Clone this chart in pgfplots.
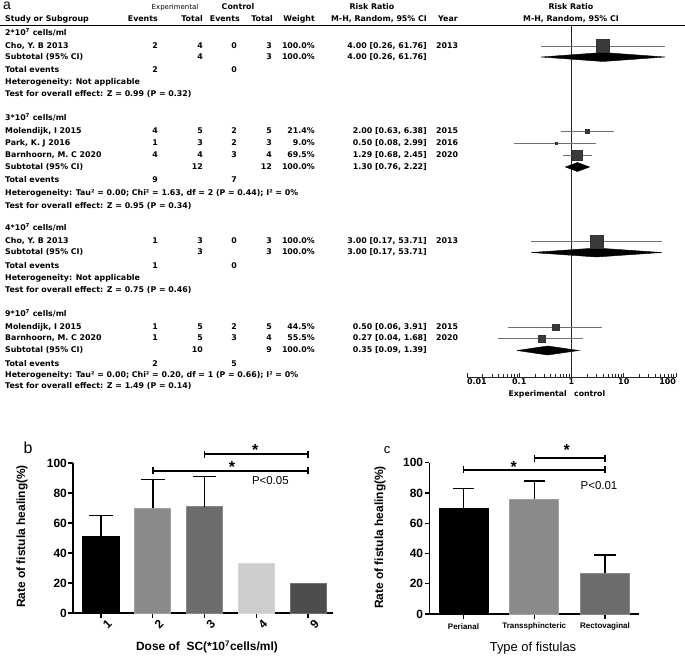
\documentclass[border=0pt]{standalone}
\usepackage{fontspec}
\setmainfont{Liberation Sans}
\newfontfamily\rmfont{DejaVu Sans}
\usepackage{pgfplots}
\pgfplotsset{compat=1.18}
\definecolor{sq}{HTML}{3A3A3A}
\definecolor{ci}{HTML}{707070}
\definecolor{bA}{HTML}{000000}
\definecolor{bB}{HTML}{8A8A8A}
\definecolor{bC}{HTML}{6C6C6C}
\definecolor{bD}{HTML}{CDCDCD}
\definecolor{bE}{HTML}{4D4D4D}
\tikzset{tl/.style={inner sep=0pt, text height=6bp, text depth=1.6bp, font=\rmfont\fontsize{7.9}{10}\selectfont\bfseries}}
\newcommand\srow[9]{%
 \node[tl,anchor=west] at (5,-#1) {#2};
 \node[tl,anchor=east] at (158,-#1) {#3};
 \node[tl,anchor=east] at (203,-#1) {#4};
 \node[tl,anchor=east] at (237,-#1) {#5};
 \node[tl,anchor=east] at (272,-#1) {#6};
 \node[tl,anchor=east] at (315,-#1) {#7};
 \node[tl,anchor=east] at (427,-#1) {#8};
 \node[tl,anchor=west] at (436,-#1) {#9};
}
\newcommand\tline[2]{\node[tl,anchor=west] at (5,-#1) {#2};}
\begin{document}
\begin{tikzpicture}
\path[use as bounding box] (0bp,0bp) rectangle (685bp,-656bp);
\begin{scope}[x=1bp,y=1bp]
% ---------- panel a : table ----------
\node[anchor=west, inner sep=0pt, font=\fontsize{14}{14}\selectfont] at (3,-6) {a};
\node[tl, font=\rmfont\fontsize{7}{9}\selectfont] at (175,-7) {Experimental};
\node[tl] at (238,-7) {Control};
\node[tl] at (372,-7) {Risk Ratio};
\node[tl] at (571,-7) {Risk Ratio};
\node[tl,anchor=west] at (5,-19.5) {Study or Subgroup};
\node[tl,anchor=east] at (158,-19.5) {Events};
\node[tl,anchor=east] at (203,-19.5) {Total};
\node[tl,anchor=east] at (240,-19.5) {Events};
\node[tl,anchor=east] at (273,-19.5) {Total};
\node[tl,anchor=east] at (315,-19.5) {Weight};
\node[tl,anchor=east] at (427,-19.5) {M-H, Random, 95\% CI};
\node[tl,anchor=west] at (438,-19.5) {Year};
\node[tl] at (571,-19.5) {M-H, Random, 95\% CI};
\draw[line width=0.8bp] (0,-25.5) -- (685,-25.5);
% group 1
\tline{33}{2*10\textsuperscript{7} cells/ml}
\srow{46}{Cho, Y. B 2013}{2}{4}{0}{3}{100.0\%}{4.00 [0.26, 61.76]}{2013}
\srow{57}{Subtotal (95\% CI)}{}{4}{}{3}{100.0\%}{4.00 [0.26, 61.76]}{}
\srow{70}{Total events}{2}{}{0}{}{}{}{}
\tline{82}{Heterogeneity: Not applicable}
\tline{94}{Test for overall effect: Z = 0.99 (P = 0.32)}
% group 2
\tline{118}{3*10\textsuperscript{7} cells/ml}
\srow{131.5}{Molendijk, I 2015}{4}{5}{2}{5}{21.4\%}{2.00 [0.63, 6.38]}{2015}
\srow{143.5}{Park, K. J 2016}{1}{3}{2}{3}{9.0\%}{0.50 [0.08, 2.99]}{2016}
\srow{155.5}{Barnhoorn, M. C 2020}{4}{4}{3}{4}{69.5\%}{1.29 [0.68, 2.45]}{2020}
\srow{167}{Subtotal (95\% CI)}{}{12}{}{12}{100.0\%}{1.30 [0.76, 2.22]}{}
\srow{180}{Total events}{9}{}{7}{}{}{}{}
\tline{193}{Heterogeneity: Tau² = 0.00; Chi² = 1.63, df = 2 (P = 0.44); I² = 0\%}
\tline{206}{Test for overall effect: Z = 0.95 (P = 0.34)}
% group 3
\tline{228}{4*10\textsuperscript{7} cells/ml}
\srow{241.5}{Cho, Y. B 2013}{1}{3}{0}{3}{100.0\%}{3.00 [0.17, 53.71]}{2013}
\srow{252.5}{Subtotal (95\% CI)}{}{3}{}{3}{100.0\%}{3.00 [0.17, 53.71]}{}
\srow{266}{Total events}{1}{}{0}{}{}{}{}
\tline{278}{Heterogeneity: Not applicable}
\tline{290}{Test for overall effect: Z = 0.75 (P = 0.46)}
% group 4
\tline{314}{9*10\textsuperscript{7} cells/ml}
\srow{327}{Molendijk, I 2015}{1}{5}{2}{5}{44.5\%}{0.50 [0.06, 3.91]}{2015}
\srow{338.5}{Barnhoorn, M. C 2020}{1}{5}{3}{4}{55.5\%}{0.27 [0.04, 1.68]}{2020}
\srow{350.5}{Subtotal (95\% CI)}{}{10}{}{9}{100.0\%}{0.35 [0.09, 1.39]}{}
\srow{364}{Total events}{2}{}{5}{}{}{}{}
\tline{375}{Heterogeneity: Tau² = 0.00; Chi² = 0.20, df = 1 (P = 0.66); I² = 0\%}
\tline{386}{Test for overall effect: Z = 1.49 (P = 0.14)}
\node[tl,anchor=east,font=\rmfont\fontsize{7.8}{9}\selectfont\bfseries] at (567,-394) {Experimental};
\node[tl,anchor=west,font=\rmfont\fontsize{7.8}{9}\selectfont\bfseries] at (574,-394) {control};
% labels of panels b and c
\node[anchor=center, inner sep=0pt, font=\fontsize{16}{16}\selectfont] at (28,-448) {b};
\node[rotate=90, font=\fontsize{12}{12}\selectfont\bfseries] at (22,-536.5) {Rate of fistula healing(\%)};
\node[font=\fontsize{12}{12}\selectfont\bfseries] at (207,-647) {Dose of\ \ SC(*10\textsuperscript{7}cells/ml)};
\node[anchor=center, inner sep=0pt, font=\fontsize{13}{13}\selectfont] at (387,-450) {c};
\node[rotate=90, font=\fontsize{12}{12}\selectfont\bfseries] at (380,-537.5) {Rate of fistula healing(\%)};
\node[font=\fontsize{13}{13}\selectfont] at (533,-648) {Type of fistulas};
\end{scope}
% ---------- panel a : forest plot ----------
\begin{axis}[at={(467bp,-377bp)}, anchor=south west, scale only axis,
  width=209bp, height=352bp, xmode=log, xmin=0.01, xmax=100, ymin=-377, ymax=-25,
  axis x line*=bottom, axis y line=none, clip=false,
  xtick={0.01,0.1,1,10,100}, minor xtick={},
  xticklabels={\makebox[0pt][l]{0.01},0.1,1,10,\makebox[0pt][r]{100}},
  tick align=inside, major tick length=4bp,
  axis line style={black!85, line width=0.7bp}, tick style={black!85, line width=0.7bp},
  xticklabel style={font=\rmfont\fontsize{8}{10}\selectfont\bfseries, inner sep=1.5bp},
  /pgf/number format/assume math mode=true]
\draw[black!85, line width=0.7bp] (axis cs:1,-25.5) -- (axis cs:1,-377);
% confidence intervals
\addplot[ci, line width=0.7bp] coordinates {(0.26,-46) (61.76,-46)};
\addplot[ci, line width=0.7bp] coordinates {(0.63,-131.5) (6.38,-131.5)};
\addplot[ci, line width=0.7bp] coordinates {(0.08,-143.5) (2.99,-143.5)};
\addplot[ci, line width=0.7bp] coordinates {(0.68,-155.5) (2.45,-155.5)};
\addplot[ci, line width=0.7bp] coordinates {(0.17,-241.5) (53.71,-241.5)};
\addplot[ci, line width=0.7bp] coordinates {(0.06,-327) (3.91,-327)};
\addplot[ci, line width=0.7bp] coordinates {(0.04,-338.5) (1.68,-338.5)};
% study squares
\addplot[only marks, mark=square*, mark size=6.5bp, mark options={fill=sq, draw=black!80}] coordinates {(4.00,-46)};
\addplot[only marks, mark=square*, mark size=2bp, mark options={fill=sq, draw=black!80}] coordinates {(2.00,-131.5)};
\addplot[only marks, mark=square*, mark size=1bp, mark options={fill=sq, draw=black!80}] coordinates {(0.50,-143.5)};
\addplot[only marks, mark=square*, mark size=5bp, mark options={fill=sq, draw=black!80}] coordinates {(1.29,-155.5)};
\addplot[only marks, mark=square*, mark size=6.5bp, mark options={fill=sq, draw=black!80}] coordinates {(3.00,-241.5)};
\addplot[only marks, mark=square*, mark size=3.3bp, mark options={fill=sq, draw=black!80}] coordinates {(0.50,-327)};
\addplot[only marks, mark=square*, mark size=3.8bp, mark options={fill=sq, draw=black!80}] coordinates {(0.27,-338.5)};
% subtotal diamonds
\addplot[fill=black, draw=black] coordinates {(0.26,-57) (4.00,-52.5) (61.76,-57) (4.00,-61.5) (0.26,-57)};
\addplot[fill=black, draw=black] coordinates {(0.76,-167) (1.30,-162.5) (2.22,-167) (1.30,-171.5) (0.76,-167)};
\addplot[fill=black, draw=black] coordinates {(0.17,-252.5) (3.00,-248) (53.71,-252.5) (3.00,-257) (0.17,-252.5)};
\addplot[fill=black, draw=black] coordinates {(0.09,-350.5) (0.35,-346) (1.39,-350.5) (0.35,-355) (0.09,-350.5)};
\end{axis}
% ---------- panel b ----------
\begin{axis}[at={(73bp,-613bp)}, anchor=south west, scale only axis,
  width=260bp, height=150bp, xmin=-0.54, xmax=4.48, ymin=0, ymax=100,
  axis lines*=left, clip=false,
  ytick={0,20,40,60,80,100}, xtick={0,1,2,3,4}, xticklabels={1,2,3,4,9},
  tick align=outside, major tick length=4.5bp,
  axis line style={line width=1.6bp, black}, tick style={line width=1.4bp, black},
  /pgf/number format/assume math mode=true,
  yticklabel style={font=\fontsize{12}{12}\selectfont\bfseries, inner sep=1.5bp},
  xticklabel style={font=\fontsize{12}{12}\selectfont\bfseries, rotate=45, anchor=center, yshift=-9bp}]
\addplot[ybar, bar width=0.7, bar shift=0pt, fill=bA, draw=bA, line width=0.8bp] coordinates {(0,51)};
\addplot[ybar, bar width=0.7, bar shift=0pt, fill=bB, draw=bB!80!white, line width=0.8bp] coordinates {(1,70)};
\addplot[ybar, bar width=0.7, bar shift=0pt, fill=bC, draw=bC!80!white, line width=0.8bp] coordinates {(2,71)};
\addplot[ybar, bar width=0.7, bar shift=0pt, fill=bD, draw=bD!80!white, line width=0.8bp] coordinates {(3,33)};
\addplot[ybar, bar width=0.7, bar shift=0pt, fill=bE, draw=bE!80!white, line width=0.8bp] coordinates {(4,20)};
% error bars (upper)
\addplot[black, line width=1.5bp] coordinates {(0,51) (0,65)};
\addplot[black, line width=1.5bp] coordinates {(-0.23,65) (0.23,65)};
\addplot[black, line width=1.5bp] coordinates {(1,70) (1,89)};
\addplot[black, line width=1.5bp] coordinates {(0.77,89) (1.23,89)};
\addplot[black, line width=1.5bp] coordinates {(2,71) (2,91)};
\addplot[black, line width=1.5bp] coordinates {(1.77,91) (2.23,91)};
% significance
\draw[line width=1.5bp] (axis cs:2,106) -- (axis cs:4,106);
\draw[line width=1.5bp] ([yshift=3.5bp]axis cs:2,106) -- ([yshift=-3.5bp]axis cs:2,106);
\draw[line width=1.5bp] ([yshift=3.5bp]axis cs:4,106) -- ([yshift=-3.5bp]axis cs:4,106);
\draw[line width=1.5bp] (axis cs:1,94.7) -- (axis cs:4,94.7);
\draw[line width=1.5bp] ([yshift=3.5bp]axis cs:1,94.7) -- ([yshift=-3.5bp]axis cs:1,94.7);
\draw[line width=1.5bp] ([yshift=3.5bp]axis cs:4,94.7) -- ([yshift=-3.5bp]axis cs:4,94.7);
\node[font=\fontsize{16}{16}\selectfont\bfseries] at (axis cs:2.98,108.4) {*};
\node[font=\fontsize{16}{16}\selectfont\bfseries] at (axis cs:2.53,97.1) {*};
\node[font=\fontsize{11.5}{12}\selectfont] at (axis cs:3.27,88) {P<0.05};
\end{axis}
% ---------- panel c ----------
\begin{axis}[at={(429.3bp,-614bp)}, anchor=south west, scale only axis,
  width=209.7bp, height=151.3bp, xmin=-0.483, xmax=2.48, ymin=0, ymax=100,
  axis lines*=left, clip=false,
  ytick={0,20,40,60,80,100}, xtick={0,1,2}, xticklabels={Perianal,Transsphincteric,Rectovaginal},
  tick align=outside, major tick length=4.5bp,
  axis line style={line width=1.6bp, black}, tick style={line width=1.4bp, black},
  /pgf/number format/assume math mode=true,
  yticklabel style={font=\fontsize{12}{12}\selectfont\bfseries, inner sep=1.5bp},
  xticklabel style={font=\fontsize{8}{9}\selectfont\bfseries, anchor=center, yshift=-8bp}]
\addplot[ybar, bar width=0.69, bar shift=0pt, fill=bA, draw=bA, line width=0.8bp] coordinates {(0,70)};
\addplot[ybar, bar width=0.69, bar shift=0pt, fill=bB, draw=bB!80!white, line width=0.8bp] coordinates {(1,76)};
\addplot[ybar, bar width=0.69, bar shift=0pt, fill=bC, draw=bC!80!white, line width=0.8bp] coordinates {(2,27)};
\addplot[black, line width=1.5bp] coordinates {(0,70) (0,83)};
\addplot[black, line width=1.5bp] coordinates {(-0.15,83) (0.15,83)};
\addplot[black, line width=1.5bp] coordinates {(1,76) (1,88)};
\addplot[black, line width=1.5bp] coordinates {(0.85,88) (1.15,88)};
\addplot[black, line width=1.5bp] coordinates {(2,27) (2,39)};
\addplot[black, line width=1.5bp] coordinates {(1.85,39) (2.15,39)};
\draw[line width=1.5bp] (axis cs:1,103.1) -- (axis cs:2,103.1);
\draw[line width=1.5bp] ([yshift=3.5bp]axis cs:1,103.1) -- ([yshift=-3.5bp]axis cs:1,103.1);
\draw[line width=1.5bp] ([yshift=3.5bp]axis cs:2,103.1) -- ([yshift=-3.5bp]axis cs:2,103.1);
\draw[line width=1.5bp] (axis cs:0,95.2) -- (axis cs:2,95.2);
\draw[line width=1.5bp] ([yshift=3.5bp]axis cs:0,95.2) -- ([yshift=-3.5bp]axis cs:0,95.2);
\draw[line width=1.5bp] ([yshift=3.5bp]axis cs:2,95.2) -- ([yshift=-3.5bp]axis cs:2,95.2);
\node[font=\fontsize{16}{16}\selectfont\bfseries] at (axis cs:1.46,108.1) {*};
\node[font=\fontsize{16}{16}\selectfont\bfseries] at (axis cs:0.71,96.9) {*};
\node[font=\fontsize{11.5}{12}\selectfont] at (axis cs:1.915,84.6) {P<0.01};
\end{axis}
\end{tikzpicture}
\end{document}
